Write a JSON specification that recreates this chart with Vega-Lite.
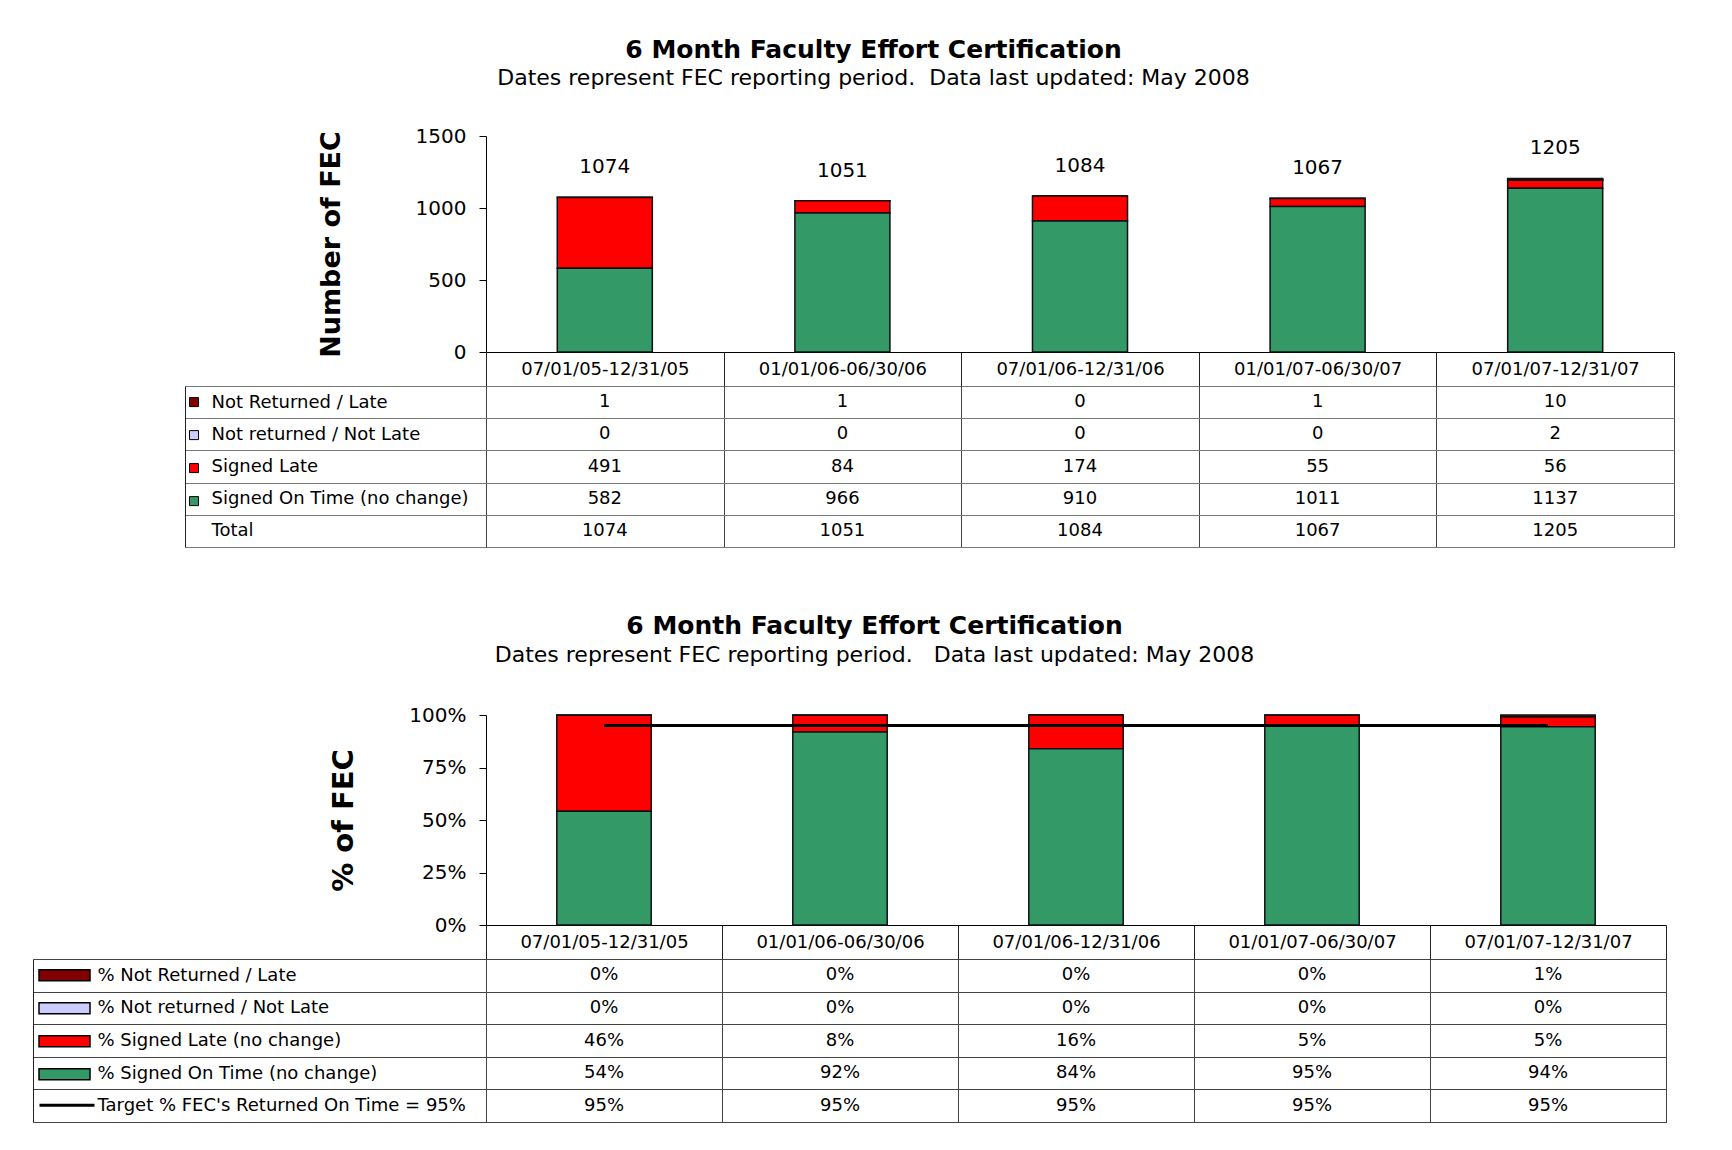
{
  "$schema": "https://vega.github.io/schema/vega-lite/v6.json",
  "background": "white",
  "padding": {"left": 32, "top": 37, "right": 10, "bottom": 10},
  "config": {
    "font": "DejaVu Sans",
    "view": {"stroke": null},
    "axis": {"labelFont": "DejaVu Sans", "titleFont": "DejaVu Sans", "labelColor": "black", "titleColor": "black"},
    "text": {"font": "DejaVu Sans", "color": "black"},
    "legend": {"labelFont": "DejaVu Sans"}
  },
  "datasets": {
    "fec": [
      {"period": "07/01/05-12/31/05", "series": "Not Returned / Late", "pseries": "% Not Returned / Late", "count": 1, "pct": 0.0},
      {"period": "07/01/05-12/31/05", "series": "Not returned / Not Late", "pseries": "% Not returned / Not Late", "count": 0, "pct": 0.0},
      {"period": "07/01/05-12/31/05", "series": "Signed Late", "pseries": "% Signed Late (no change)", "count": 491, "pct": 0.46},
      {"period": "07/01/05-12/31/05", "series": "Signed On Time (no change)", "pseries": "% Signed On Time (no change)", "count": 582, "pct": 0.54},
      {"period": "01/01/06-06/30/06", "series": "Not Returned / Late", "pseries": "% Not Returned / Late", "count": 1, "pct": 0.0},
      {"period": "01/01/06-06/30/06", "series": "Not returned / Not Late", "pseries": "% Not returned / Not Late", "count": 0, "pct": 0.0},
      {"period": "01/01/06-06/30/06", "series": "Signed Late", "pseries": "% Signed Late (no change)", "count": 84, "pct": 0.08},
      {"period": "01/01/06-06/30/06", "series": "Signed On Time (no change)", "pseries": "% Signed On Time (no change)", "count": 966, "pct": 0.92},
      {"period": "07/01/06-12/31/06", "series": "Not Returned / Late", "pseries": "% Not Returned / Late", "count": 0, "pct": 0.0},
      {"period": "07/01/06-12/31/06", "series": "Not returned / Not Late", "pseries": "% Not returned / Not Late", "count": 0, "pct": 0.0},
      {"period": "07/01/06-12/31/06", "series": "Signed Late", "pseries": "% Signed Late (no change)", "count": 174, "pct": 0.16},
      {"period": "07/01/06-12/31/06", "series": "Signed On Time (no change)", "pseries": "% Signed On Time (no change)", "count": 910, "pct": 0.84},
      {"period": "01/01/07-06/30/07", "series": "Not Returned / Late", "pseries": "% Not Returned / Late", "count": 1, "pct": 0.0},
      {"period": "01/01/07-06/30/07", "series": "Not returned / Not Late", "pseries": "% Not returned / Not Late", "count": 0, "pct": 0.0},
      {"period": "01/01/07-06/30/07", "series": "Signed Late", "pseries": "% Signed Late (no change)", "count": 55, "pct": 0.05},
      {"period": "01/01/07-06/30/07", "series": "Signed On Time (no change)", "pseries": "% Signed On Time (no change)", "count": 1011, "pct": 0.95},
      {"period": "07/01/07-12/31/07", "series": "Not Returned / Late", "pseries": "% Not Returned / Late", "count": 10, "pct": 0.01},
      {"period": "07/01/07-12/31/07", "series": "Not returned / Not Late", "pseries": "% Not returned / Not Late", "count": 2, "pct": 0.0},
      {"period": "07/01/07-12/31/07", "series": "Signed Late", "pseries": "% Signed Late (no change)", "count": 56, "pct": 0.05},
      {"period": "07/01/07-12/31/07", "series": "Signed On Time (no change)", "pseries": "% Signed On Time (no change)", "count": 1137, "pct": 0.94}
    ],
    "totals": [
      {"period": "07/01/05-12/31/05", "series": "Total", "total": 1074},
      {"period": "01/01/06-06/30/06", "series": "Total", "total": 1051},
      {"period": "07/01/06-12/31/06", "series": "Total", "total": 1084},
      {"period": "01/01/07-06/30/07", "series": "Total", "total": 1067},
      {"period": "07/01/07-12/31/07", "series": "Total", "total": 1205}
    ],
    "target": [
      {"period": "07/01/05-12/31/05", "row": "Target % FEC's Returned On Time = 95%", "target": 0.95},
      {"period": "01/01/06-06/30/06", "row": "Target % FEC's Returned On Time = 95%", "target": 0.95},
      {"period": "07/01/06-12/31/06", "row": "Target % FEC's Returned On Time = 95%", "target": 0.95},
      {"period": "01/01/07-06/30/07", "row": "Target % FEC's Returned On Time = 95%", "target": 0.95},
      {"period": "07/01/07-12/31/07", "row": "Target % FEC's Returned On Time = 95%", "target": 0.95}
    ]
  },
  "resolve": {"scale": {"fill": "independent", "stroke": "independent"}, "legend": {"fill": "independent", "stroke": "independent"}},
  "spacing": 66,
  "vconcat": [
    {
      "title": {"text": "6 Month Faculty Effort Certification", "subtitle": "Dates represent FEC reporting period.\u00a0 Data last updated: May 2008", "anchor": "middle", "frame": "bounds", "dx": -56, "font": "DejaVu Sans", "fontSize": 25, "fontWeight": "bold", "color": "black", "subtitleFont": "DejaVu Sans", "subtitleFontSize": 22, "subtitleColor": "black", "subtitlePadding": 5, "offset": 37.5},
      "bounds": "flush",
      "spacing": 34,
      "vconcat": [
        {
          "width": 1188,
          "height": 216,
          "view": {"stroke": null},
          "layer": [
            {
              "data": {"name": "fec"},
              "mark": {"type": "bar", "stroke": "#111111", "strokeWidth": 1.5},
              "encoding": {
                "x": {"field": "period", "type": "nominal", "scale": {"domain": ["07/01/05-12/31/05", "01/01/06-06/30/06", "07/01/06-12/31/06", "01/01/07-06/30/07", "07/01/07-12/31/07"], "paddingInner": 0.6, "paddingOuter": 0.3}, "axis": {"title": null, "labels": false, "ticks": false, "domain": true, "domainColor": "black", "domainWidth": 1, "grid": false}},
                "y": {"field": "count", "type": "quantitative", "stack": "zero", "scale": {"domain": [0, 1500], "nice": false}, "axis": {"title": "Number of FEC", "titleFontSize": 27, "titleFontWeight": "bold", "titlePadding": 70, "values": [0, 500, 1000, 1500], "format": "d", "labelFontSize": 20, "labelPadding": 13, "tickSize": 7, "tickColor": "black", "domainColor": "black", "grid": false}},
                "fill": {"field": "series", "type": "nominal", "scale": {"domain": ["Not Returned / Late", "Not returned / Not Late", "Signed Late", "Signed On Time (no change)"], "range": ["#800000", "#CCCCFF", "#FF0000", "#339966"]}, "legend": {"orient": "none", "legendX": -297, "legendY": 250, "direction": "vertical", "title": null, "symbolType": "square", "symbolSize": 81, "symbolStrokeColor": "black", "symbolStrokeWidth": 1, "labelExpr": "''", "labelFontSize": 10, "clipHeight": 32.2, "rowPadding": 0, "padding": 0}},
                "order": {"field": "series", "sort": "descending"}
              }
            },
            {
              "data": {"name": "totals"},
              "mark": {"type": "text", "baseline": "middle", "dy": -30, "fontSize": 20},
              "encoding": {
                "x": {"field": "period", "type": "nominal"},
                "y": {"field": "total", "type": "quantitative"},
                "text": {"field": "total", "type": "quantitative", "format": "d"}
              }
            }
          ]
        },
        {
          "width": 1188,
          "height": 161,
          "view": {"stroke": "black", "strokeWidth": 1},
          "layer": [
            {
              "data": {"name": "fec"},
              "mark": {"type": "text", "fontSize": 18},
              "encoding": {
                "x": {"field": "period", "type": "nominal", "scale": {"domain": ["07/01/05-12/31/05", "01/01/06-06/30/06", "07/01/06-12/31/06", "01/01/07-06/30/07", "07/01/07-12/31/07"], "paddingInner": 0, "paddingOuter": 0}, "axis": {"orient": "top", "title": null, "domain": false, "ticks": true, "tickBand": "extent", "tickSize": 34, "tickColor": "#222222", "labelPadding": -17, "labelBaseline": "middle", "labelAngle": 0, "labelFontSize": 18, "labelOverlap": false, "labelLimit": 400, "grid": true, "gridColor": "#444444"}},
                "y": {"field": "series", "type": "nominal", "scale": {"domain": ["Not Returned / Late", "Not returned / Not Late", "Signed Late", "Signed On Time (no change)", "Total"], "paddingInner": 0, "paddingOuter": 0}, "axis": {"orient": "left", "title": null, "offset": 301, "domain": true, "domainColor": "#222222", "ticks": true, "tickBand": "extent", "tickSize": -301, "tickColor": "#777777", "labelAlign": "left", "labelBaseline": "middle", "labelPadding": 275, "labelFontSize": 18, "labelLimit": 500, "labelOverlap": false, "grid": true, "gridColor": "#777777"}},
                "text": {"field": "count", "type": "quantitative", "format": "d"}
              }
            },
            {
              "data": {"name": "totals"},
              "mark": {"type": "text", "fontSize": 18},
              "encoding": {
                "x": {"field": "period", "type": "nominal"},
                "y": {"field": "series", "type": "nominal"},
                "text": {"field": "total", "type": "quantitative", "format": "d"}
              }
            }
          ]
        }
      ]
    },
    {
      "title": {"text": "6 Month Faculty Effort Certification", "subtitle": "Dates represent FEC reporting period.\u00a0\u00a0 Data last updated: May 2008", "anchor": "middle", "frame": "bounds", "dx": 25, "font": "DejaVu Sans", "fontSize": 25, "fontWeight": "bold", "color": "black", "subtitleFont": "DejaVu Sans", "subtitleFontSize": 22, "subtitleColor": "black", "subtitlePadding": 6, "offset": 39},
      "bounds": "flush",
      "spacing": 34,
      "vconcat": [
        {
          "width": 1180,
          "height": 210,
          "view": {"stroke": null},
          "layer": [
            {
              "data": {"name": "fec"},
              "mark": {"type": "bar", "stroke": "#111111", "strokeWidth": 1.5},
              "encoding": {
                "x": {"field": "period", "type": "nominal", "scale": {"domain": ["07/01/05-12/31/05", "01/01/06-06/30/06", "07/01/06-12/31/06", "01/01/07-06/30/07", "07/01/07-12/31/07"], "paddingInner": 0.6, "paddingOuter": 0.3}, "axis": {"title": null, "labels": false, "ticks": false, "domain": true, "domainColor": "black", "domainWidth": 1, "grid": false}},
                "y": {"field": "count", "type": "quantitative", "stack": "normalize", "scale": {"domain": [0, 1], "nice": false}, "axis": {"title": "% of FEC", "titleFontSize": 29, "titleFontWeight": "bold", "titlePadding": 50, "values": [0, 0.25, 0.5, 0.75, 1], "format": ".0%", "labelFontSize": 20, "labelPadding": 13, "tickSize": 7, "tickColor": "black", "domainColor": "black", "grid": false}},
                "fill": {"field": "pseries", "type": "nominal", "scale": {"domain": ["% Not Returned / Late", "% Not returned / Not Late", "% Signed Late (no change)", "% Signed On Time (no change)"], "range": ["#800000", "#CCCCFF", "#FF0000", "#339966"]}, "legend": {"orient": "none", "legendX": -448, "legendY": 244, "direction": "vertical", "title": null, "symbolType": "M-1,-0.22H1V0.22H-1Z", "symbolSize": 2601, "symbolStrokeColor": "black", "symbolStrokeWidth": 1.5, "labelExpr": "''", "labelFontSize": 10, "clipHeight": 32.5, "rowPadding": 0, "padding": 0}},
                "order": {"field": "pseries", "sort": "descending"}
              }
            },
            {
              "data": {"name": "target"},
              "mark": {"type": "line", "strokeWidth": 3},
              "encoding": {
                "x": {"field": "period", "type": "nominal"},
                "y": {"field": "target", "type": "quantitative"},
                "stroke": {"datum": "Target % FEC's Returned On Time = 95%", "type": "nominal", "scale": {"range": ["black"]}, "legend": {"orient": "none", "legendX": -448, "legendY": 374, "title": null, "symbolType": "stroke", "symbolSize": 3025, "symbolStrokeWidth": 3, "labelExpr": "''", "labelFontSize": 10, "clipHeight": 32.5, "padding": 0}}
              }
            }
          ]
        },
        {
          "width": 1180,
          "height": 163,
          "view": {"stroke": "black", "strokeWidth": 1},
          "layer": [
            {
              "data": {"name": "fec"},
              "mark": {"type": "text", "fontSize": 18},
              "encoding": {
                "x": {"field": "period", "type": "nominal", "scale": {"domain": ["07/01/05-12/31/05", "01/01/06-06/30/06", "07/01/06-12/31/06", "01/01/07-06/30/07", "07/01/07-12/31/07"], "paddingInner": 0, "paddingOuter": 0}, "axis": {"orient": "top", "title": null, "domain": false, "ticks": true, "tickBand": "extent", "tickSize": 34, "tickColor": "#222222", "labelPadding": -17, "labelBaseline": "middle", "labelAngle": 0, "labelFontSize": 18, "labelOverlap": false, "labelLimit": 400, "grid": true, "gridColor": "#444444"}},
                "y": {"field": "pseries", "type": "nominal", "scale": {"domain": ["% Not Returned / Late", "% Not returned / Not Late", "% Signed Late (no change)", "% Signed On Time (no change)", "Target % FEC's Returned On Time = 95%"], "paddingInner": 0, "paddingOuter": 0}, "axis": {"orient": "left", "title": null, "offset": 453, "domain": true, "domainColor": "#222222", "ticks": true, "tickBand": "extent", "tickSize": -453, "tickColor": "#444444", "labelAlign": "left", "labelBaseline": "middle", "labelPadding": 389, "labelFontSize": 18, "labelLimit": 500, "labelOverlap": false, "grid": true, "gridColor": "#444444"}},
                "text": {"field": "pct", "type": "quantitative", "format": ".0%"}
              }
            },
            {
              "data": {"name": "target"},
              "mark": {"type": "text", "fontSize": 18},
              "encoding": {
                "x": {"field": "period", "type": "nominal"},
                "y": {"field": "row", "type": "nominal"},
                "text": {"field": "target", "type": "quantitative", "format": ".0%"}
              }
            }
          ]
        }
      ]
    }
  ]
}
